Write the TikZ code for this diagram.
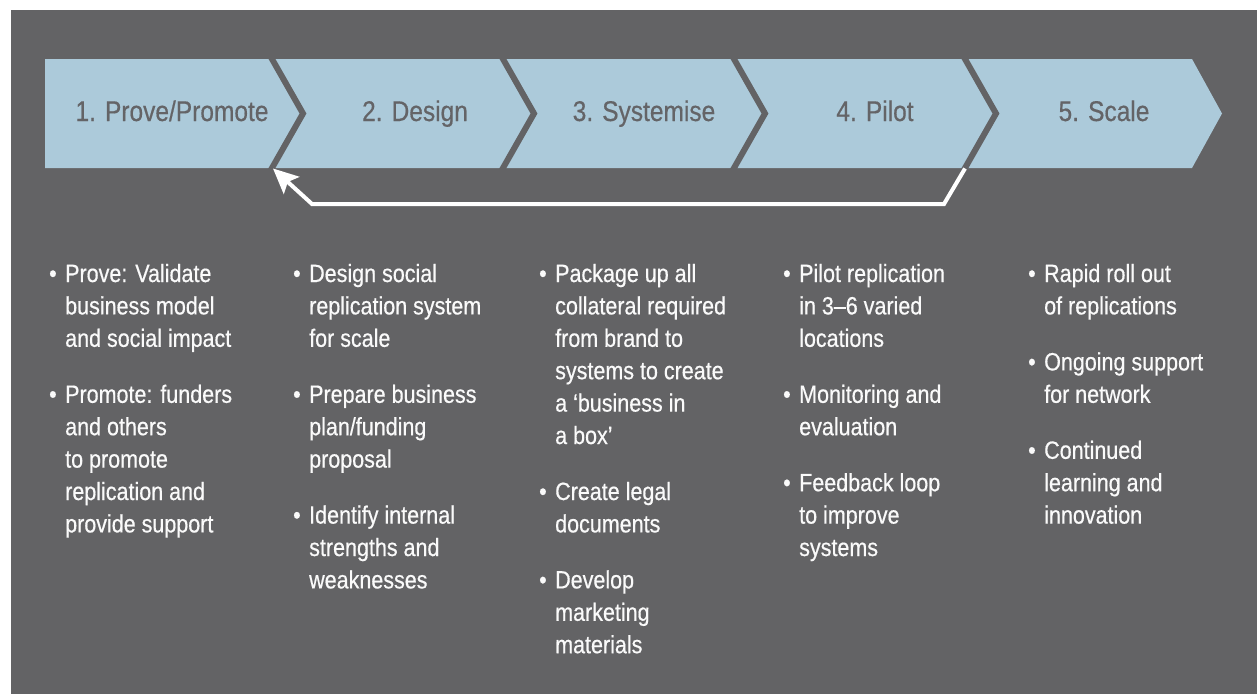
\documentclass[tikz,border=0pt]{standalone}
\usepackage{fontspec}
\setmainfont{Liberation Sans}[FakeStretch=0.86,FakeBold=0.5]
\usetikzlibrary{arrows.meta}
\definecolor{bggray}{RGB}{99,99,101}
\definecolor{bandblue}{RGB}{172,202,218}
\definecolor{titlegray}{RGB}{100,100,103}
\definecolor{bodywhite}{RGB}{250,250,250}
\newcommand\bul[1]{\hbox{\llap{•\hspace{8.5pt}}#1}}
\newcommand\lnx[1]{\hbox{#1}}
\newcommand\gapx{\vskip 23.6pt}
\begin{document}
\begin{tikzpicture}[x=1pt,y=-1pt,
  stagetitle/.style={anchor=base, inner sep=0pt, text=titlegray, font=\fontsize{28.5}{30}\selectfont},
  body/.style={anchor=base west, inner sep=0pt, text=bodywhite, font=\fontsize{25}{32.4}\selectfont},
  sepline/.style={draw=bggray, line width=6pt, line join=miter},
  loopline/.style={draw=white, line width=4pt, line join=miter, -{Stealth[length=25pt,width=23pt,inset=5pt]}}]
\useasboundingbox (0,0) rectangle (1257,694);
\fill[bggray] (11,10) rectangle (1257,694);
\fill[bandblue] (45,59) -- (1192,59) -- (1222,113.5) -- (1192,168) -- (45,168) -- cycle;
\foreach \s in {272,503,734,965}
  \draw[sepline] (\s-2.5,54.6) -- (\s+31,113.5) -- (\s-2.5,172.4);
% return loop
\coordinate (s4b) at (965,168.5);
\coordinate (c1) at (944,204);
\coordinate (c2) at (312,204);
\coordinate (s1b) at (273,168.5);
\draw[loopline] (s4b) -- (c1) -- (c2) -- (s1b);
% stage titles
\node[stagetitle] (t1) at (172,121) {1. Prove/Promote};
\node[stagetitle] (t2) at (415,121) {2. Design};
\node[stagetitle] (t3) at (644,121) {3. Systemise};
\node[stagetitle] (t4) at (875,121) {4. Pilot};
\node[stagetitle] (t5) at (1104,121) {5. Scale};
% columns
\node[body] (col1) at (65,282) {\vtop{\bul{Prove: Validate}\lnx{business model}\lnx{and social impact}\gapx
  \bul{Promote: funders}\lnx{and others}\lnx{to promote}\lnx{replication and}\lnx{provide support}}};
\node[body] (col2) at (309,282) {\vtop{\bul{Design social}\lnx{replication system}\lnx{for scale}\gapx
  \bul{Prepare business}\lnx{plan/funding}\lnx{proposal}\gapx
  \bul{Identify internal}\lnx{strengths and}\lnx{weaknesses}}};
\node[body] (col3) at (555,282) {\vtop{\bul{Package up all}\lnx{collateral required}\lnx{from brand to}\lnx{systems to create}\lnx{a ‘business in}\lnx{a box’}\gapx
  \bul{Create legal}\lnx{documents}\gapx
  \bul{Develop}\lnx{marketing}\lnx{materials}}};
\node[body] (col4) at (799,282) {\vtop{\bul{Pilot replication}\lnx{in 3–6 varied}\lnx{locations}\gapx
  \bul{Monitoring and}\lnx{evaluation}\gapx
  \bul{Feedback loop}\lnx{to improve}\lnx{systems}}};
\node[body] (col5) at (1044,282) {\vtop{\bul{Rapid roll out}\lnx{of replications}\gapx
  \bul{Ongoing support}\lnx{for network}\gapx
  \bul{Continued}\lnx{learning and}\lnx{innovation}}};
\end{tikzpicture}
\end{document}
